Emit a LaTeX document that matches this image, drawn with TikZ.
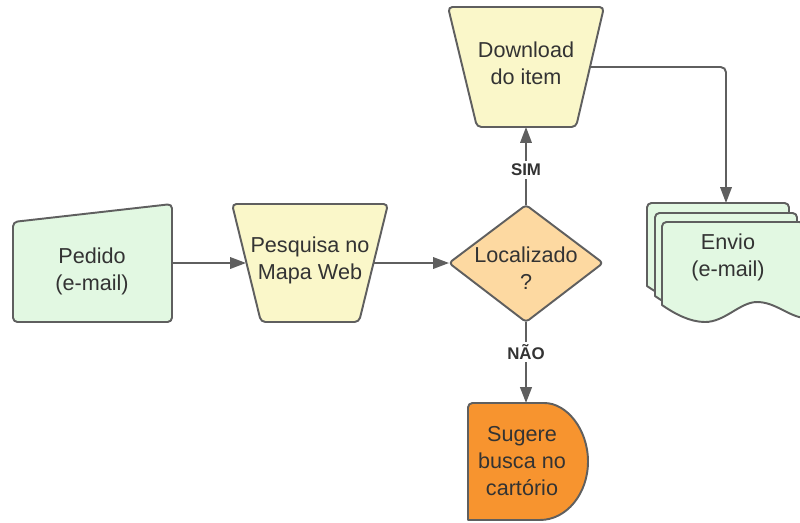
\documentclass[tikz,border=0pt]{standalone}
\usepackage{fontspec}
\setmainfont{Liberation Sans}
\usetikzlibrary{arrows.meta}
\definecolor{lnc}{HTML}{5F5F5F}
\definecolor{txc}{HTML}{333333}
\definecolor{grn}{HTML}{E2F8E2}
\definecolor{ylw}{HTML}{FAF7C9}
\definecolor{lor}{HTML}{FDD9A1}
\definecolor{dor}{HTML}{F7942F}
\tikzset{
  shp/.style={draw=lnc, line width=1.1pt, line join=round},
  lbl/.style={align=center, text=txc, font=\fontsize{12.3}{15.3}\selectfont, inner sep=0pt},
  tag/.style={fill=white, text=txc, font=\bfseries\fontsize{9.6}{11}\selectfont, inner sep=1.5pt},
  conn/.style={draw=lnc, line width=1.1pt, -{Triangle[length=9pt,width=6.5pt]}},
}
\begin{document}
\begin{tikzpicture}[x=0.02cm,y=-0.02cm]
\clip (0,0) rectangle (800,522);
\fill[white] (0,0) rectangle (800,522);
% Pedido (manual input)
\path[shp, fill=grn, rounded corners=2.5pt] (13,222) -- (172,204) -- (172,322) -- (13,322) -- cycle;
\node[lbl] (pedido) at (92,271) {Pedido\\(e-mail)};
% Pesquisa (manual operation)
\path[shp, fill=ylw, rounded corners=2.5pt] (232,204) -- (388,204) -- (359,322) -- (261,322) -- cycle;
\node[lbl] (pesquisa) at (310,260) {Pesquisa no\\Mapa Web};
% Decision
\path[shp, fill=lor, rounded corners=2pt] (449,263) -- (526,205) -- (603,263) -- (526,322) -- cycle;
\node[lbl] (local) at (526,268) {Localizado\\?};
% Download
\path[shp, fill=ylw, rounded corners=2.5pt] (448,7) -- (604,7) -- (576,127) -- (477,127) -- cycle;
\node[lbl] (download) at (526,63) {Download\\do item};
% Envio (multi-document)
\foreach \dx/\dy in {-15/-19,-7/-9,0/0}{
\begin{scope}[shift={(\dx,\dy)}]
\path[shp, fill=grn] (662,305) [rounded corners=2.5pt]-- (662,222) -- (804,222) [sharp corners]-- (804,318)
  .. controls (788,316) and (775,302) .. (757,302)
  .. controls (740,302) and (725,322) .. (705,322)
  .. controls (690,322) and (675,314) .. (662,305) -- cycle;
\end{scope}}
\node[lbl] (envio) at (728,257) {Envio\\(e-mail)};
% Sugere (delay)
\path[shp, fill=dor] (468,520) [rounded corners=2.5pt]-- (468,403) -- (540,403) [sharp corners]
  arc[start angle=90, end angle=-90, x radius=0.96cm, y radius=1.17cm] -- cycle;
\node[lbl] (sugere) at (522,461) {Sugere\\busca no\\cartório};
% connector anchors
\coordinate (pedR) at (172,263);
\coordinate (pesL) at (246,263);
\coordinate (pesR) at (374,263);
\coordinate (locL) at (449,263);
\coordinate (locT) at (526,205);
\coordinate (locB) at (526,322);
\coordinate (dlB) at (526,127);
\coordinate (dlR) at (590,67);
\coordinate (envT) at (726,203);
\coordinate (sugT) at (526,403);
% connectors
\draw[conn] (pedR) -- (pesL);
\draw[conn] (pesR) -- (locL);
\draw[conn] (locT) -- node[tag, pos=0.45] (sim) {SIM} (dlB);
\draw[conn, rounded corners=3pt] (dlR) -| (envT);
\draw[conn, line width=1.4pt] (locB) -- node[tag, pos=0.37] (nao) {NÃO} (sugT);
\end{tikzpicture}
\end{document}
